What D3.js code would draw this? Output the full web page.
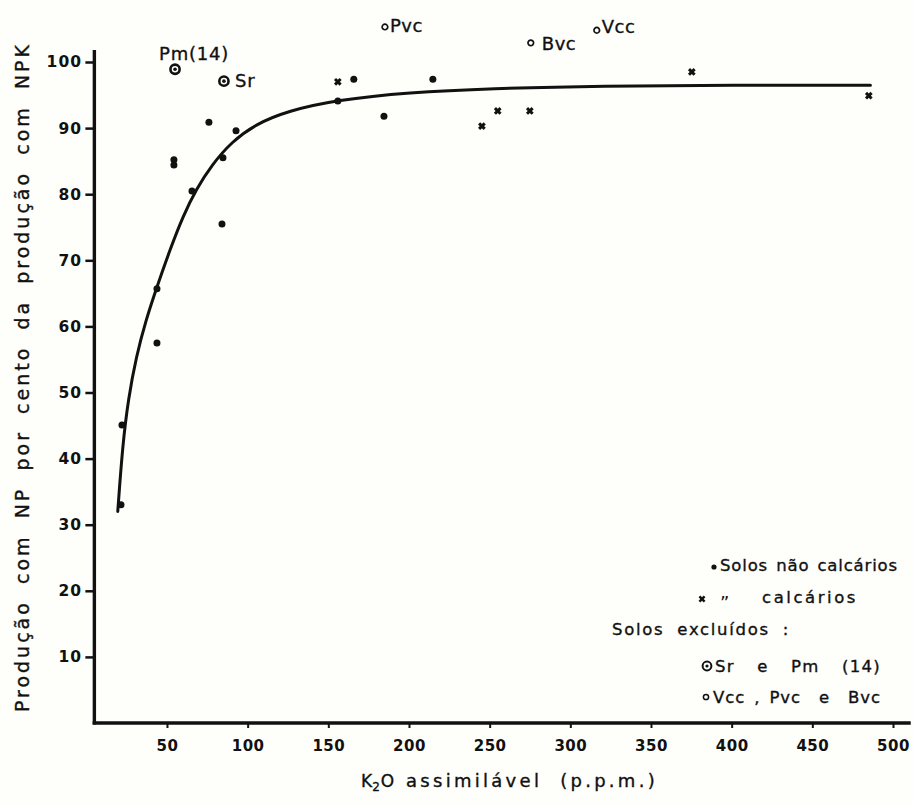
<!DOCTYPE html>
<html>
<head>
<meta charset="utf-8">
<script src="https://cdn.jsdelivr.net/npm/d3@7"></script>
<style>
  html, body { margin: 0; padding: 0; background: #fefefb; }
  svg { display: block; }
  text { font-family: "DejaVu Sans", sans-serif; fill: #111; }
  text.med { stroke: #111; stroke-width: 0.35; }
</style>
</head>
<body>
<script>
// ---- Data ----
// Solos não calcários (filled dots): [K2O ppm, % production]
const naoCalcarios = [
  [21.5, 33.0], [22.1, 45.1], [43.8, 57.5], [43.8, 65.7], [54.3, 84.4], [54.3, 85.2],
  [65.5, 80.5], [76.0, 90.9], [84.1, 75.5], [84.7, 85.5], [92.8, 89.6], [155.9, 94.1],
  [165.8, 97.4], [184.5, 91.8], [214.8, 97.4]
];
// Solos calcários (x marks)
const calcarios = [
  [155.9, 97.0], [245.2, 90.3], [255.0, 92.6], [274.9, 92.6], [375.3, 98.5], [485.0, 94.9]
];
// Solos excluídos: Sr e Pm (14) (circle with dot)
const excluidosA = [
  { name: "Pm(14)", x: 55.0, y: 98.9 },
  { name: "Sr", x: 85.3, y: 97.1 }
];
// Solos excluídos: Vcc, Pvc e Bvc (open circles)
const excluidosB = [
  { name: "Pvc", x: 185.1, y: 105.3 },
  { name: "Bvc", x: 275.5, y: 102.9 },
  { name: "Vcc", x: 316.4, y: 104.8 }
];
// Fitted curve
const curva = [
  [19.5, 32.0], [22.5, 42.0], [26, 49.0], [31, 55.5], [37, 61.0], [43.8, 66.0],
  [52, 71.7], [60, 76.7], [68, 80.7], [78, 84.5], [90, 87.9], [105, 90.6],
  [125, 92.6], [155, 94.25], [200, 95.4], [250, 96.0], [320, 96.4], [400, 96.5], [486, 96.5]
];
const xTicks = [50, 100, 150, 200, 250, 300, 350, 400, 450, 500];
const yTicks = [10, 20, 30, 40, 50, 60, 70, 80, 90, 100];
const xTitle = "assimilável (p.p.m.)";
const yTitle = "Produção com NP por cento da produção com NPK";
const legendRows = ["Solos não calcários", "calcários", "Solos excluídos :", "Sr  e  Pm  (14)", "Vcc , Pvc  e  Bvc"];

// ---- Chart ----
const W = 914, H = 804;
const svg = d3.select("body").append("svg").attr("width", W).attr("height", H);
svg.append("rect").attr("width", W).attr("height", H).attr("fill", "#fefefb");

const x = d3.scaleLinear().domain([0, 500]).range([86.3, 893]);
const y = d3.scaleLinear().domain([0, 100]).range([723, 62]);
const axisX0 = x(5), axisX1 = x(511), axisY0 = y(0), axisYTop = y(101.8);

// fit a text to a target width: share the extra room between letters and word gaps
function fit(sel, target, wordShare) {
  sel.attr("letter-spacing", 0).attr("word-spacing", 0).style("white-space", "pre");
  const L = sel.node().getComputedTextLength();
  const txt = sel.text();
  const nSp = (txt.match(/ /g) || []).length;
  const nCh = txt.length;
  const extra = target - L;
  if (extra <= 0) return sel;
  const ws = nSp > 0 ? wordShare : 0;
  sel.attr("letter-spacing", extra * (1 - ws) / nCh);
  if (nSp > 0) sel.attr("word-spacing", extra * ws / nSp);
  return sel;
}

// y axis
const yAxis = d3.axisLeft(y).tickValues(yTicks).tickSize(9).tickPadding(3).tickFormat(d3.format("d"));
const gy = svg.append("g").attr("transform", `translate(${axisX0},0)`).call(yAxis);
gy.select(".domain").remove();
gy.selectAll(".tick line").attr("stroke", "#111").attr("stroke-width", 2.5);
gy.selectAll(".tick text").attr("font-size", 15.5).attr("font-weight", "bold").attr("fill", "#111")
  .attr("font-family", "DejaVu Sans").attr("letter-spacing", 1.2);
svg.append("line").attr("x1", axisX0).attr("x2", axisX0).attr("y1", axisYTop).attr("y2", axisY0 + 1.5)
  .attr("stroke", "#111").attr("stroke-width", 3.4);

// x axis
const xAxis = d3.axisBottom(x).tickValues(xTicks).tickSize(5).tickPadding(12).tickFormat(d3.format("d"));
const gx = svg.append("g").attr("transform", `translate(0,${axisY0})`).call(xAxis);
gx.select(".domain").remove();
gx.selectAll(".tick line").attr("stroke", "#111").attr("stroke-width", 2);
gx.selectAll(".tick text").attr("font-size", 15).attr("font-weight", "bold").attr("fill", "#111")
  .attr("font-family", "DejaVu Sans").attr("letter-spacing", 0.5);
svg.append("line").attr("x1", axisX0 - 1.7).attr("x2", axisX1).attr("y1", axisY0).attr("y2", axisY0)
  .attr("stroke", "#111").attr("stroke-width", 3.4);

// axis titles
const xt = svg.append("text").attr("class", "med").attr("x", 361).attr("y", 787).attr("font-size", 17);
xt.append("tspan").text("K");
xt.append("tspan").attr("font-size", 12).attr("dy", 4).text("2");
xt.append("tspan").attr("dy", -4).attr("dx", 1).text("O");
fit(svg.append("text").attr("class", "med").attr("x", 406).attr("y", 787).attr("font-size", 18).text(xTitle), 252, 0.12);

const yt = svg.append("text").attr("class", "med")
  .attr("transform", "translate(29,712) rotate(-90)")
  .attr("text-anchor", "start").attr("font-size", 19)
  .text(yTitle);
fit(yt, 670, 0.3);

// fitted curve
const line = d3.line().x(d => x(d[0])).y(d => y(d[1])).curve(d3.curveBasis);
svg.append("path").datum(curva).attr("d", line).attr("fill", "none")
  .attr("stroke", "#111").attr("stroke-width", 3).attr("stroke-linecap", "round");

// dots
svg.append("g").selectAll("circle").data(naoCalcarios).join("circle")
  .attr("cx", d => x(d[0])).attr("cy", d => y(d[1])).attr("r", 3.5).attr("fill", "#111");

// x marks
const xMark = (g, s) => {
  g.append("line").attr("x1", -s).attr("y1", -s).attr("x2", s).attr("y2", s);
  g.append("line").attr("x1", -s).attr("y1", s).attr("x2", s).attr("y2", -s);
};
svg.append("g").selectAll("g").data(calcarios).join("g")
  .attr("transform", d => `translate(${x(d[0])},${y(d[1])})`)
  .attr("stroke", "#111").attr("stroke-width", 3)
  .each(function () { xMark(d3.select(this), 2.8); });

// excluded: circle with dot
const ga = svg.append("g").selectAll("g").data(excluidosA).join("g")
  .attr("transform", d => `translate(${x(d.x)},${y(d.y)})`);
ga.append("circle").attr("r", 4.6).attr("fill", "none").attr("stroke", "#111").attr("stroke-width", 2.6);
ga.append("circle").attr("r", 1.8).attr("fill", "#111");
const labOffA = { "Pm(14)": [-16, -9], "Sr": [11, 6] };
ga.append("text").attr("class", "med").attr("x", d => labOffA[d.name][0]).attr("y", d => labOffA[d.name][1])
  .attr("font-size", 18).attr("letter-spacing", 0.8).text(d => d.name);

// excluded: open circles
const gb = svg.append("g").selectAll("g").data(excluidosB).join("g")
  .attr("transform", d => `translate(${x(d.x)},${y(d.y)})`);
gb.append("circle").attr("r", 2.8).attr("fill", "none").attr("stroke", "#111").attr("stroke-width", 1.7);
const labOffB = { "Pvc": [5, 5], "Bvc": [11, 7], "Vcc": [5, 3] };
gb.append("text").attr("class", "med").attr("x", d => labOffB[d.name][0]).attr("y", d => labOffB[d.name][1])
  .attr("font-size", 18).attr("letter-spacing", 0.5).text(d => d.name);

// legend
const lg = svg.append("g");
lg.append("circle").attr("cx", 714).attr("cy", 567).attr("r", 2.6).attr("fill", "#111");
fit(lg.append("text").attr("class", "med").attr("x", 720).attr("y", 571).attr("font-size", 16.5).text(legendRows[0]), 178, 0.2);
const lx = lg.append("g").attr("transform", "translate(702,599)").attr("stroke", "#111").attr("stroke-width", 2.4);
xMark(lx, 2.6);
lg.append("text").attr("x", 720).attr("y", 609).attr("font-size", 18).text("\u201D");
fit(lg.append("text").attr("class", "med").attr("x", 762).attr("y", 603).attr("font-size", 16.5).text(legendRows[1]), 96, 0);
fit(lg.append("text").attr("class", "med").attr("x", 612).attr("y", 635).attr("font-size", 16.5).text(legendRows[2]), 178, 0.3);
lg.append("circle").attr("cx", 707).attr("cy", 666).attr("r", 4.4).attr("fill", "none").attr("stroke", "#111").attr("stroke-width", 2);
lg.append("circle").attr("cx", 707).attr("cy", 666).attr("r", 1.6).attr("fill", "#111");
fit(lg.append("text").attr("class", "med").attr("x", 715).attr("y", 672).attr("font-size", 16.5).text(legendRows[3]), 166, 0.6);
lg.append("circle").attr("cx", 706).attr("cy", 697).attr("r", 2.6).attr("fill", "none").attr("stroke", "#111").attr("stroke-width", 1.5);
fit(lg.append("text").attr("class", "med").attr("x", 713).attr("y", 703).attr("font-size", 16.5).text(legendRows[4]), 168, 0.5);
</script>
</body>
</html>
